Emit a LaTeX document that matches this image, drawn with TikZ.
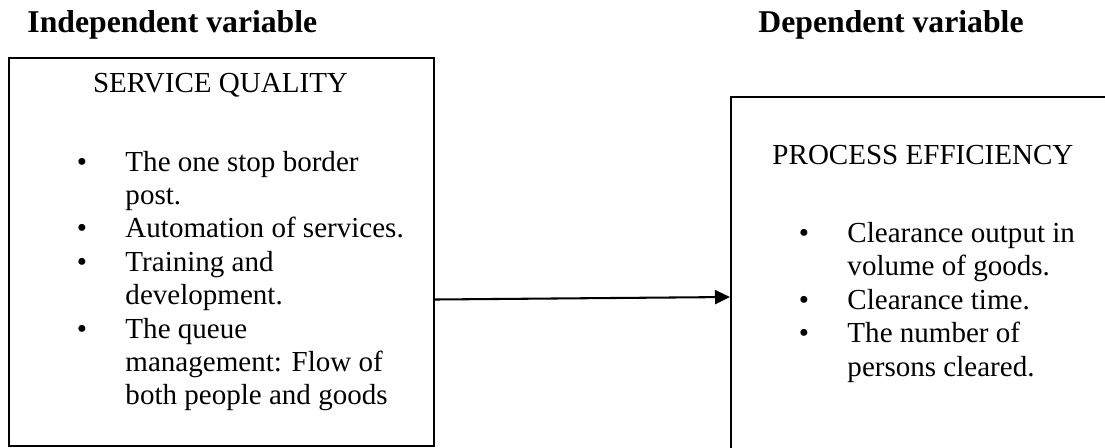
\documentclass[tikz,border=0pt]{standalone}
\usepackage{fontspec}
\setmainfont{Liberation Serif}
\usetikzlibrary{arrows.meta}
\newcommand{\lines}[1]{\begin{tabular}[t]{@{}l@{}}#1\end{tabular}}
\begin{document}
\begin{tikzpicture}[x=0.4132pt,y=-0.4132pt,
  boxline/.style={draw=black,line width=0.85pt},
  title/.style={inner sep=0pt,anchor=base west,font=\fontsize{13.1}{15}\selectfont\bfseries},
  body/.style={inner sep=0pt,anchor=base west,font=\fontsize{12}{13.8}\selectfont},
  head/.style={inner sep=0pt,anchor=base,font=\fontsize{12}{13.8}\selectfont},
  bul/.style={inner sep=0pt,anchor=base,font=\fontsize{12}{13.8}\selectfont},
  arr/.style={line width=0.85pt,-{Triangle[length=6.2pt,width=5.8pt]}}]
\useasboundingbox (0,0) rectangle (1105,447);
% boxes
\node[boxline,rectangle,inner sep=0pt,minimum width=425*0.4132pt,minimum height=388*0.4132pt,anchor=north west] (lbox) at (8,57) {};
\node[boxline,rectangle,inner sep=0pt,minimum width=420*0.4132pt,minimum height=384*0.4132pt,anchor=north west] (rbox) at (730,96) {};
% titles
\node[title] (tind) at (27,32) {Independent variable};
\node[title] (tdep) at (758,32) {Dependent variable};
% left box content
\node[head] (hsq) at (220.5,92) {SERVICE QUALITY};
\node[bul] (b1) at (82,171) {\textbullet};
\node[body] (i1) at (125,171) {\lines{The one stop border\\post.}};
\node[bul] (b2) at (82,237.8) {\textbullet};
\node[body] (i2) at (125,237.8) {Automation of services.};
\node[bul] (b3) at (82,271.2) {\textbullet};
\node[body] (i3) at (125,271.2) {\lines{Training and\\development.}};
\node[bul] (b4) at (82,338) {\textbullet};
\node[body] (i4) at (125,338) {\lines{The queue\\management: Flow of\\both people and goods}};
% right box content
\node[body] (hpe) at (772,164) {PROCESS EFFICIENCY};
\node[bul] (c1) at (804,242.4) {\textbullet};
\node[body] (j1) at (847,242.4) {\lines{Clearance output in\\volume of goods.}};
\node[bul] (c2) at (804,309.2) {\textbullet};
\node[body] (j2) at (847,309.2) {Clearance time.};
\node[bul] (c3) at (804,342.6) {\textbullet};
\node[body] (j3) at (847,342.6) {\lines{The number of\\persons cleared.}};
% arrow
\coordinate (a1) at (433,299.5);
\coordinate (a2) at (730,297);
\draw[arr] (lbox.east |- a1) -- (rbox.west |- a2);
\end{tikzpicture}
\end{document}
